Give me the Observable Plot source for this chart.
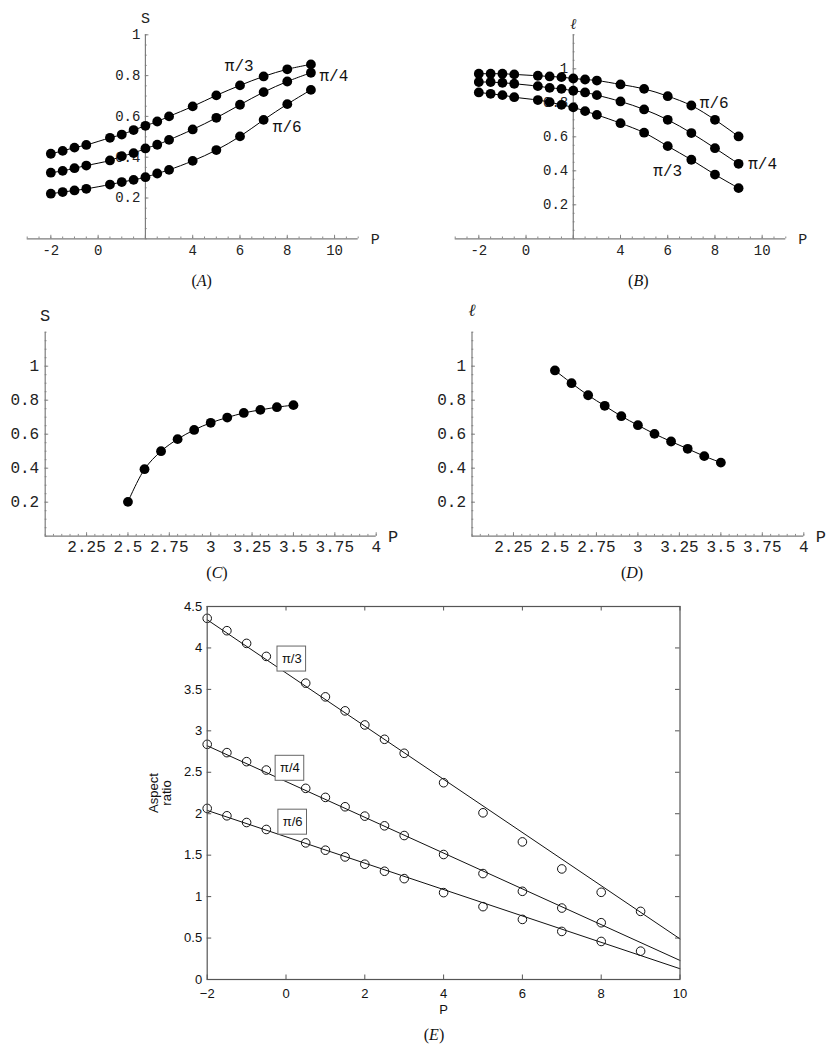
<!DOCTYPE html>
<html><head><meta charset="utf-8">
<script src="https://cdn.jsdelivr.net/npm/d3@7"></script>
<script src="https://cdn.jsdelivr.net/npm/@observablehq/plot@0.6"></script>
<style>
body{margin:0;background:#fff;}
#fig{position:relative;width:836px;height:1050px;background:#fff;overflow:hidden;}
.panel{position:absolute;}
.panel svg{overflow:visible;}
.cap{position:absolute;font-family:"Liberation Serif","Times New Roman",serif;font-size:16px;transform:translate(-50%,-50%);white-space:nowrap;color:#111;}
</style></head><body><div id="fig"></div>
<script>
// ---------- data ----------
const P_AB = [-2,-1.5,-1,-0.5,0.5,1,1.5,2,2.5,3,4,5,6,7,8,9];
// (A) S vs P
const S_pi3 = [0.417,0.431,0.447,0.460,0.495,0.511,0.533,0.554,0.575,0.600,0.649,0.703,0.752,0.796,0.831,0.855];
const S_pi4 = [0.324,0.333,0.346,0.359,0.384,0.405,0.420,0.443,0.461,0.485,0.536,0.593,0.657,0.719,0.771,0.814];
const S_pi6 = [0.221,0.229,0.237,0.245,0.266,0.278,0.289,0.302,0.320,0.338,0.382,0.435,0.502,0.583,0.660,0.730];
// (B) l vs P
const L_pi6 = [0.971,0.971,0.971,0.967,0.959,0.955,0.951,0.943,0.937,0.931,0.908,0.882,0.839,0.784,0.700,0.602];
const L_pi4 = [0.922,0.922,0.918,0.912,0.898,0.888,0.882,0.871,0.861,0.845,0.808,0.761,0.700,0.622,0.533,0.441];
const L_pi3 = [0.861,0.853,0.845,0.833,0.816,0.804,0.788,0.773,0.751,0.729,0.680,0.624,0.545,0.465,0.378,0.298];
// (C), (D)
const P_CD = [2.5,2.6,2.7,2.8,2.9,3.0,3.1,3.2,3.3,3.4,3.5];
const S_C = [0.202,0.394,0.500,0.571,0.625,0.667,0.698,0.725,0.743,0.759,0.771];
const L_D = [0.975,0.900,0.829,0.767,0.706,0.653,0.602,0.557,0.514,0.471,0.433];
// (E) aspect ratio
const AR_pi3 = [4.357,4.208,4.055,3.898,3.575,3.410,3.241,3.071,2.898,2.729,2.374,2.011,1.660,1.334,1.052,0.822];
const AR_pi4 = [2.837,2.737,2.628,2.527,2.306,2.197,2.084,1.971,1.854,1.737,1.508,1.278,1.064,0.862,0.685,null];
const AR_pi6 = [2.064,1.975,1.894,1.810,1.648,1.560,1.479,1.391,1.306,1.217,1.048,0.879,0.725,0.580,0.459,0.342];
const fitP = [-2, 10];
const fit_pi3 = [4.34, 0.49];
const fit_pi4 = [2.82, 0.23];
const fit_pi6 = [2.04, 0.13];
// curve labels
const labelsA = [{t:"π/3", x:5.97, y:0.85},{t:"π/4", x:9.97, y:0.80},{t:"π/6", x:8.0, y:0.55}];
const labelsB = [{t:"π/6", x:7.97, y:0.80},{t:"π/4", x:10.02, y:0.44},{t:"π/3", x:6.0, y:0.40}];
const labelsE = [{t:"π/3", x:0.147, y:3.866},{t:"π/4", x:0.10, y:2.548},{t:"π/6", x:0.17, y:1.898}];
// ticks
const AB_xMajor = [-2,0,2,4,6,8,10];
const AB_xTickLabels = [-2,0,4,6,8,10];
const A_yMajor = [0.2,0.4,0.6,0.8,1];
const B_yMajor = [0.2,0.4,0.6,0.8,1];
const CD_xMajor = [2.25,2.5,2.75,3,3.25,3.5,3.75,4];
const CD_yMajor = [0.2,0.4,0.6,0.8,1];
const E_xTicks = [-2,0,2,4,6,8,10];
const E_yTicks = [0,0.5,1,1.5,2,2.5,3,3.5,4,4.5];

// ---------- helpers ----------
const mono = "'Liberation Mono','Courier New',monospace";
const sans = "'Liberation Sans',Arial,Helvetica,sans-serif";
const axisGray = "#7d7d7d";
const fig = document.getElementById("fig");

function place(node, left, top) {
  const d = document.createElement("div");
  d.className = "panel"; d.style.left = left + "px"; d.style.top = top + "px";
  d.appendChild(node); fig.appendChild(d);
}
function caption(html, x, y) {
  const d = document.createElement("div");
  d.className = "cap"; d.innerHTML = html;
  d.style.left = x + "px"; d.style.top = y + "px";
  fig.appendChild(d);
}
function rows(xs, ys, s) {
  return xs.map((p, i) => ({p, v: ys[i], s})).filter(d => d.v != null);
}
function stepRange(lo, hi, step) {
  const a = Math.round(lo / step), b = Math.round(hi / step);
  return d3.range(a, b + 1).map(k => +(k * step).toFixed(6));
}
const fmt = d => String(d);

function mathPanel(o) {
  const pxX = (o.width - o.ml - o.mr) / (o.xDom[1] - o.xDom[0]);
  const pxY = (o.height - o.mt - o.mb) / (o.yDom[1] - o.yDom[0]);
  const [ox, oy] = o.origin;
  const xMinor = stepRange(o.xDom[0], o.xDom[1], o.xMinorStep);
  const yMinor = stepRange(o.yDom[0], o.yDom[1], o.yMinorStep);
  const tk = {stroke: axisGray, strokeWidth: 0.9};
  return Plot.plot({
    width: o.width, height: o.height,
    marginLeft: o.ml, marginRight: o.mr, marginTop: o.mt, marginBottom: o.mb,
    x: {domain: o.xDom, axis: null},
    y: {domain: o.yDom, axis: null},
    style: {background: "transparent", overflow: "visible"},
    marks: [
      Plot.ruleY([oy], {x1: o.xDom[0], x2: o.xDom[1], stroke: axisGray, strokeWidth: 1.2}),
      Plot.ruleX([ox], {y1: o.yDom[0], y2: o.yDom[1], stroke: axisGray, strokeWidth: 1.2}),
      Plot.ruleX(xMinor, {x: d => d, y1: oy, y2: oy + 1.8 / pxY, ...tk}),
      Plot.ruleX(o.xMajor, {x: d => d, y1: oy, y2: oy + 3.5 / pxY, ...tk}),
      Plot.ruleY(yMinor, {y: d => d, x1: ox, x2: ox + 1.8 / pxX, ...tk}),
      Plot.ruleY(o.yMajor, {y: d => d, x1: ox, x2: ox + 3.5 / pxX, ...tk}),
      Plot.text(o.xTickLabels, {x: d => d, y: oy, text: fmt, dy: o.xLabelDy, lineAnchor: "middle", fontFamily: mono, fontSize: o.tickFont, fill: "#222"}),
      Plot.text(o.yMajor, {x: ox, y: d => d, text: fmt, dx: -o.yLabelDx, textAnchor: "end", lineAnchor: "middle", fontFamily: mono, fontSize: o.tickFont, fill: "#222"}),
      Plot.line(o.data, {x: "p", y: "v", z: "s", curve: "catmull-rom", stroke: "black", strokeWidth: 1}),
      Plot.dot(o.data, {x: "p", y: "v", r: 4.9, fill: "black", stroke: "none"}),
      o.labels ? Plot.text(o.labels, {x: "x", y: "y", text: "t", lineAnchor: "middle", fontFamily: mono, fontSize: o.curveFont, fill: "#111"}) : null,
      Plot.text([o.xName], {x: o.xDom[1], y: oy, text: d => d, dx: 17, lineAnchor: "middle", fontFamily: mono, fontSize: o.tickFont + 1, fill: "#222"}),
      Plot.text([o.yName], {x: ox, y: o.yDom[1], text: d => d, dy: o.yNameDy, lineAnchor: "middle", fontFamily: o.yNameFont, fontStyle: o.yNameStyle, fontSize: o.tickFont + 1, fill: "#222"})
    ]
  });
}

// ---------- (A) ----------
place(mathPanel({
  width: 420, height: 300, ml: 26.7, mr: 62.3, mt: 34.3, mb: 61.7,
  xDom: [-3, 11], yDom: [0, 1], origin: [2, 0],
  xMajor: AB_xMajor, xTickLabels: AB_xTickLabels, xMinorStep: 0.5,
  yMajor: A_yMajor, yMinorStep: 0.05,
  tickFont: 14, curveFont: 16, xLabelDy: 12, yLabelDx: 5,
  data: [...rows(P_AB, S_pi3, "pi3"), ...rows(P_AB, S_pi4, "pi4"), ...rows(P_AB, S_pi6, "pi6")],
  labels: labelsA, xName: "P", yName: "S", yNameDy: -17, yNameFont: mono, yNameStyle: "normal"
}), 0, 0);
caption("(<i>A</i>)", 201.7, 281);

// ---------- (B) ----------
place(mathPanel({
  width: 416, height: 300, ml: 34.7, mr: 50.7, mt: 34.3, mb: 61.7,
  xDom: [-3, 11], yDom: [0, 1.2], origin: [2, 0],
  xMajor: AB_xMajor, xTickLabels: AB_xTickLabels, xMinorStep: 0.5,
  yMajor: B_yMajor, yMinorStep: 0.05,
  tickFont: 14, curveFont: 16, xLabelDy: 12, yLabelDx: 5,
  data: [...rows(P_AB, L_pi6, "pi6"), ...rows(P_AB, L_pi4, "pi4"), ...rows(P_AB, L_pi3, "pi3")],
  labels: labelsB, xName: "P", yName: "ℓ", yNameDy: -11, yNameFont: "'Liberation Serif',serif", yNameStyle: "italic"
}), 420, 0);
caption("(<i>B</i>)", 638.3, 281);

// ---------- (C) ----------
place(mathPanel({
  width: 420, height: 270, ml: 44.7, mr: 44.3, mt: 31.7, mb: 34.3,
  xDom: [2, 4], yDom: [0, 1.2], origin: [2, 0],
  xMajor: CD_xMajor, xTickLabels: CD_xMajor, xMinorStep: 0.05,
  yMajor: CD_yMajor, yMinorStep: 0.05,
  tickFont: 16, curveFont: 16, xLabelDy: 11, yLabelDx: 6,
  data: rows(P_CD, S_C, "c"),
  labels: null, xName: "P", yName: "S", yNameDy: -17, yNameFont: mono, yNameStyle: "normal"
}), 0, 300);
caption("(<i>C</i>)", 217, 572.7);

// ---------- (D) ----------
place(mathPanel({
  width: 416, height: 270, ml: 51.5, mr: 32.7, mt: 31.7, mb: 34.3,
  xDom: [2, 4], yDom: [0, 1.2], origin: [2, 0],
  xMajor: CD_xMajor, xTickLabels: CD_xMajor, xMinorStep: 0.05,
  yMajor: CD_yMajor, yMinorStep: 0.05,
  tickFont: 16, curveFont: 16, xLabelDy: 11, yLabelDx: 6,
  data: rows(P_CD, L_D, "d"),
  labels: null, xName: "P", yName: "ℓ", yNameDy: -22, yNameFont: "'Liberation Serif',serif", yNameStyle: "italic"
}), 420, 300);
caption("(<i>D</i>)", 632, 572.7);

// ---------- (E) ----------
(function () {
  const W = 836, H = 470, ml = 206.7, mr = 156.5, mt = 26, mb = 71;
  const xDom = [-2, 10], yDom = [0, 4.5];
  const pxX = (W - ml - mr) / (xDom[1] - xDom[0]);
  const pxY = (H - mt - mb) / (yDom[1] - yDom[0]);
  const pts = [...rows(P_AB, AR_pi3, "pi3"), ...rows(P_AB, AR_pi4, "pi4"), ...rows(P_AB, AR_pi6, "pi6")];
  const fits = [...rows(fitP, fit_pi3, "pi3"), ...rows(fitP, fit_pi4, "pi4"), ...rows(fitP, fit_pi6, "pi6")];
  const frameC = "#555";
  const tl = 4.5;
  const plot = Plot.plot({
    width: W, height: H, marginLeft: ml, marginRight: mr, marginTop: mt, marginBottom: mb,
    x: {domain: xDom, axis: null},
    y: {domain: yDom, axis: null},
    style: {background: "transparent", overflow: "visible"},
    marks: [
      Plot.ruleX(E_xTicks, {x: d => d, y1: yDom[0], y2: yDom[0] + tl / pxY, stroke: frameC}),
      Plot.ruleX(E_xTicks, {x: d => d, y1: yDom[1] - tl / pxY, y2: yDom[1], stroke: frameC}),
      Plot.ruleY(E_yTicks, {y: d => d, x1: xDom[0], x2: xDom[0] + tl / pxX, stroke: frameC}),
      Plot.ruleY(E_yTicks, {y: d => d, x1: xDom[1] - tl / pxX, x2: xDom[1], stroke: frameC}),
      Plot.line(fits, {x: "p", y: "v", z: "s", stroke: "#111", strokeWidth: 1}),
      Plot.dot(pts, {x: "p", y: "v", r: 4.3, stroke: "#111", strokeWidth: 1, fill: "none"}),
      Plot.rect(labelsE, {x1: "x", x2: "x", y1: "y", y2: "y", insetLeft: -14.3, insetRight: -14.3, insetTop: -12.5, insetBottom: -12.5, fill: "white", stroke: "#666", strokeWidth: 1}),
      Plot.text(labelsE, {x: "x", y: "y", text: "t", lineAnchor: "middle", fontFamily: sans, fontSize: 13, fill: "#111"}),
      Plot.frame({stroke: frameC, strokeWidth: 1.2}),
      Plot.text(E_xTicks, {x: d => d, y: yDom[0], text: d => d3.format("~g")(d).replace("-", "−"), dy: 14, lineAnchor: "middle", fontFamily: sans, fontSize: 13, fill: "#111"}),
      Plot.text(E_yTicks, {x: xDom[0], y: d => d, text: d => String(d), dx: -5, textAnchor: "end", lineAnchor: "middle", fontFamily: sans, fontSize: 13, fill: "#111"}),
      Plot.text(["P"], {frameAnchor: "bottom", text: d => d, dy: 30, lineAnchor: "middle", textAnchor: "middle", fontFamily: sans, fontSize: 13, fill: "#111"}),
      Plot.text(["Aspect\nratio"], {frameAnchor: "left", text: d => d, dx: -47.2, rotate: -90, textAnchor: "middle", lineAnchor: "middle", fontFamily: sans, fontSize: 13, fill: "#111"})
    ]
  });
  place(plot, 0, 580);
})();
caption("(<i>E</i>)", 434, 1035);
</script></body></html>
